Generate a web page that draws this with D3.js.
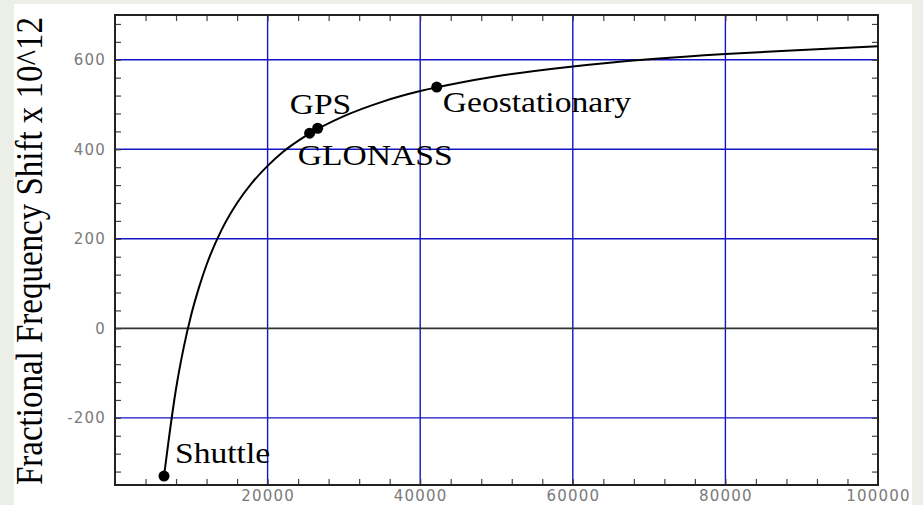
<!DOCTYPE html>
<html>
<head>
<meta charset="utf-8">
<script src="https://cdn.jsdelivr.net/npm/d3@7"></script>
<style>
  body { margin: 0; background: #eceee8; }
  .tick-label { font-family: "DejaVu Sans", sans-serif; font-size: 15px; fill: #7a7a7a; letter-spacing: 1.2px; }
  .note { font-family: "Liberation Serif", "Times New Roman", serif; font-size: 30px; fill: #000; }
</style>
</head>
<body>
<div id="chart"></div>
<script>
// orbit radius (km) and fractional frequency shift (x 10^12)
var radius = [6422, 7000, 8000, 9000, 10000, 11000, 12000, 14000, 16000, 18000, 20000, 22000,
              25000, 30000, 35000, 40000, 45000, 50000, 60000, 70000, 80000, 90000, 100000];
var shift  = [-330, -254, -135, -43, 31, 91, 142, 221, 280, 326, 363, 394,
              430, 474, 506, 530, 548, 563, 585, 601, 613, 622, 630];

// the marked satellites
var satNames  = ["Shuttle", "GLONASS", "GPS", "Geostationary"];
var satRadius = [6422, 25510, 26560, 42164];
var satShift  = [-330, 436, 447, 539];

// tick values
var xLabels = [20000, 40000, 60000, 80000, 100000];
var yLabels = [-200, 0, 200, 400, 600];

var width = 923, height = 505;
var plotLeft = 115, plotRight = 878, plotTop = 15, plotBottom = 485;
var stretch = 1.12; // the original text is a little wider than it is tall

var svg = d3.select("#chart").append("svg")
  .attr("width", width)
  .attr("height", height);

// white page area
svg.append("rect")
  .attr("x", 14).attr("y", 4)
  .attr("width", 898).attr("height", 501)
  .attr("fill", "#fff");

var x = d3.scaleLinear().domain([0, 100000]).range([plotLeft, plotRight]);
var y = d3.scaleLinear().domain([-350, 700]).range([plotBottom, plotTop]);

// grid lines
svg.selectAll(".vgrid")
  .data(xLabels.filter(function (d) { return d < 100000; }))
  .enter().append("line")
  .attr("x1", function (d) { return x(d); })
  .attr("x2", function (d) { return x(d); })
  .attr("y1", plotTop).attr("y2", plotBottom)
  .attr("stroke", "#1414c4")
  .attr("stroke-width", 1.4);

svg.selectAll(".hgrid")
  .data(yLabels)
  .enter().append("line")
  .attr("x1", plotLeft).attr("x2", plotRight)
  .attr("y1", function (d) { return y(d); })
  .attr("y2", function (d) { return y(d); })
  .attr("stroke", function (d) { return d === 0 ? "#333" : "#1414c4"; })
  .attr("stroke-width", function (d) { return d === 0 ? 1.6 : 1.4; });

// minor ticks, pointing inwards, on all four sides
var xMinor = d3.range(4000, 100000, 4000);
var yMinor = d3.range(-320, 700, 40);

function noDomain(g) { g.select(".domain").remove(); }

svg.append("g")
  .attr("transform", "translate(0," + plotBottom + ")")
  .call(d3.axisBottom(x).tickValues(xMinor).tickSize(-6).tickFormat(""))
  .call(noDomain);
svg.append("g")
  .attr("transform", "translate(0," + plotTop + ")")
  .call(d3.axisTop(x).tickValues(xMinor).tickSize(-6).tickFormat(""))
  .call(noDomain);
svg.append("g")
  .attr("transform", "translate(" + plotLeft + ",0)")
  .call(d3.axisLeft(y).tickValues(yMinor).tickSize(-6).tickFormat(""))
  .call(noDomain);
svg.append("g")
  .attr("transform", "translate(" + plotRight + ",0)")
  .call(d3.axisRight(y).tickValues(yMinor).tickSize(-6).tickFormat(""))
  .call(noDomain);
svg.selectAll(".tick line").attr("stroke", "#444").attr("stroke-width", 1.2);

// tick labels
var xAxis = svg.append("g")
  .attr("transform", "translate(0," + plotBottom + ")")
  .call(d3.axisBottom(x).tickValues(xLabels).tickSize(0).tickPadding(5)
    .tickFormat(function (d) { return String(d); }))
  .call(noDomain);
xAxis.attr("font-size", null).attr("font-family", null);
xAxis.selectAll("text").attr("class", "tick-label").attr("fill", null);

var yAxis = svg.append("g")
  .attr("transform", "translate(" + plotLeft + ",0)")
  .call(d3.axisLeft(y).tickValues(yLabels).tickSize(0).tickPadding(9)
    .tickFormat(function (d) { return String(d); }))
  .call(noDomain);
yAxis.attr("font-size", null).attr("font-family", null);
yAxis.selectAll("text").attr("class", "tick-label").attr("fill", null);

// frame
svg.append("rect")
  .attr("x", plotLeft).attr("y", plotTop)
  .attr("width", plotRight - plotLeft).attr("height", plotBottom - plotTop)
  .attr("fill", "none")
  .attr("stroke", "#222")
  .attr("stroke-width", 2);

// curve
var line = d3.line()
  .x(function (d, i) { return x(radius[i]); })
  .y(function (d, i) { return y(shift[i]); })
  .curve(d3.curveMonotoneX);

svg.append("path")
  .attr("d", line(radius))
  .attr("fill", "none")
  .attr("stroke", "#000")
  .attr("stroke-width", 2);

// satellites
var labelOffset = {
  "Shuttle": [11, -13],
  "GLONASS": [-12, 32],
  "GPS": [-28, -14],
  "Geostationary": [6, 25]
};

svg.selectAll(".sat")
  .data(satNames)
  .enter().append("circle")
  .attr("cx", function (d, i) { return x(satRadius[i]); })
  .attr("cy", function (d, i) { return y(satShift[i]); })
  .attr("r", 5.5)
  .attr("fill", "#000");

svg.selectAll(".note")
  .data(satNames)
  .enter().append("text")
  .attr("class", "note")
  .attr("transform", function (d, i) {
    var tx = x(satRadius[i]) + labelOffset[d][0];
    var ty = y(satShift[i]) + labelOffset[d][1];
    return "translate(" + tx + "," + ty + ") scale(" + stretch + ",1)";
  })
  .text(function (d) { return d; });

// y axis title
svg.append("text")
  .attr("class", "note")
  .attr("transform", "translate(42,251) rotate(-90) scale(1," + stretch + ")")
  .attr("text-anchor", "middle")
  .style("font-size", "33px")
  .text("Fractional Frequency Shift x 10^12");
</script>
</body>
</html>
